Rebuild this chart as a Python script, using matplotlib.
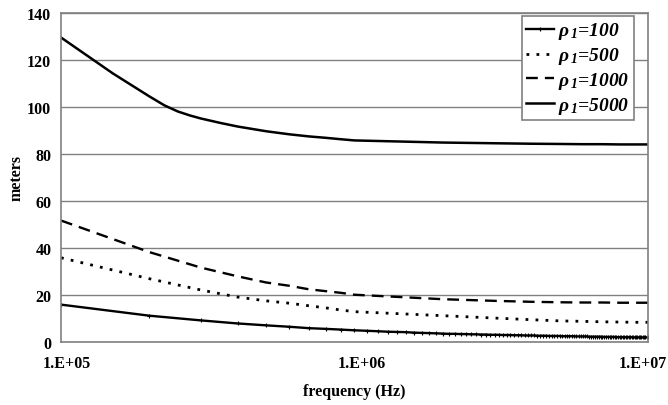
import matplotlib
matplotlib.use("Agg")
import matplotlib.pyplot as plt
from matplotlib.transforms import ScaledTranslation

# frequency grid (Hz) for the smooth curves
freq = [1e5, 2e5, 3e5, 4e5, 5e5, 6e5, 7e5, 8e5, 9e5, 1e6,
        2e6, 3e6, 4e6, 5e6, 6e6, 7e6, 8e6, 9e6, 1e7]
freq_5000 = [1e5, 1.5e5, 2e5, 2.25e5, 2.5e5, 2.75e5, 3e5, 3.5e5, 4e5, 5e5, 6e5, 7e5, 8e5, 9e5, 1e6,
             2e6, 3e6, 4e6, 5e6, 6e6, 7e6, 8e6, 9e6, 1e7]

# rho1 = 100 is sampled every 1e5 Hz (markers)
freq_100 = [1e5 * k for k in range(1, 101)]
rho_100 = [16.0, 11.3, 9.3, 8.0, 7.2, 6.6, 6.0, 5.7, 5.4, 5.1,
           4.9, 4.7, 4.5, 4.4, 4.3, 4.1, 4.0, 3.9, 3.8, 3.7,
           3.6, 3.6, 3.5, 3.5, 3.4, 3.4, 3.3, 3.3, 3.2, 3.2,
           3.2, 3.1, 3.1, 3.1, 3.0, 3.0, 3.0, 2.9, 2.9, 2.9,
           2.9, 2.8, 2.8, 2.8, 2.8, 2.7, 2.7, 2.7, 2.7, 2.7,
           2.6, 2.6, 2.6, 2.6, 2.6, 2.6, 2.5, 2.5, 2.5, 2.5,
           2.5, 2.5, 2.4, 2.4, 2.4, 2.4, 2.4, 2.4, 2.4, 2.3,
           2.3, 2.3, 2.3, 2.3, 2.3, 2.3, 2.3, 2.2, 2.2, 2.2,
           2.2, 2.2, 2.2, 2.2, 2.2, 2.2, 2.2, 2.2, 2.1, 2.1,
           2.1, 2.1, 2.1, 2.1, 2.1, 2.1, 2.1, 2.1, 2.1, 2.1]
rho_500 = [35.9, 27.0, 22.2, 19.2, 17.6, 16.6, 15.5, 14.6, 13.7, 13.0,
           11.3, 10.3, 9.6, 9.1, 8.9, 8.7, 8.6, 8.5, 8.5]
rho_1000 = [51.7, 38.3, 31.7, 28.0, 25.4, 24.0, 22.5, 21.7, 21.0, 20.2,
            18.3, 17.6, 17.2, 17.0, 16.9, 16.9, 16.8, 16.8, 16.8]
rho_5000 = [129.4, 114.2, 104.4, 100.6, 98.0, 96.3, 95.0, 93.1, 91.6, 89.6, 88.3, 87.4, 86.8, 86.2, 85.7,
            84.8, 84.5, 84.3, 84.2, 84.1, 84.1, 84.0, 84.0, 84.0]

labels = [r"$\rho_{\,1}$=100", r"$\rho_{\,1}$=500",
          r"$\rho_{\,1}$=1000", r"$\rho_{\,1}$=5000"]
xtick_labels = ["1.E+05", "1.E+06", "1.E+07"]

plt.rcParams["font.family"] = "Liberation Serif"
plt.rcParams["font.weight"] = "bold"
plt.rcParams["mathtext.fontset"] = "custom"
plt.rcParams["mathtext.rm"] = "Liberation Serif:bold:italic"
plt.rcParams["mathtext.it"] = "Liberation Serif:bold:italic"
plt.rcParams["mathtext.bf"] = "Liberation Serif:bold:italic"

fig = plt.figure(figsize=(6.68, 4.06), dpi=100)
ax = fig.add_axes([0.0913, 0.1544, 0.8787, 0.8123])

ax.plot(freq_100, rho_100, color="black", lw=1.7, marker="+", ms=3, mew=0.8, label=labels[0])
ax.plot(freq, rho_500, color="black", lw=2.0, linestyle=(0, (1, 2.6)), label=labels[1])
ax.plot(freq, rho_1000, color="black", lw=1.7, linestyle=(0, (5, 3)), label=labels[2])
ax.plot(freq_5000, rho_5000, color="black", lw=1.8, label=labels[3])

ax.set_xscale("log")
ax.set_xlim(1e5, 1e7)
ax.set_ylim(0, 140)
ax.set_xticks([1e5, 1e6, 1e7])
ax.set_xticklabels(xtick_labels)
ax.set_xticks([], minor=True)
ax.set_yticks(range(0, 141, 20))
ax.tick_params(axis="both", length=0, labelsize=11.5)
ax.tick_params(axis="x", pad=9)
ax.tick_params(axis="y", pad=7)
# Excel-like label placement: nudge the x tick labels
for lab, dx in zip(ax.get_xticklabels(), [6, 7, -5]):
    lab.set_transform(lab.get_transform() + ScaledTranslation(dx / 100, 0, fig.dpi_scale_trans))

ax.yaxis.grid(True, color="#808080", lw=1)
ax.set_axisbelow(True)
for s in ax.spines.values():
    s.set_color("#808080")
    s.set_linewidth(1.2)

ax.set_xlabel("frequency (Hz)", fontsize=11.5, fontweight="bold", labelpad=9)
ax.set_ylabel("meters", fontsize=11.5, fontweight="bold", labelpad=2)

leg = ax.legend(loc="upper right", bbox_to_anchor=(0.976, 0.989), borderaxespad=0,
                fancybox=False, edgecolor="#808080", framealpha=1,
                prop=dict(family="Liberation Serif", weight="bold", style="italic", size=14),
                handlelength=1.45, borderpad=0.22, labelspacing=0.2, handletextpad=0.2)
leg.get_frame().set_linewidth(1.2)

fig.savefig("out.png", dpi=100)
